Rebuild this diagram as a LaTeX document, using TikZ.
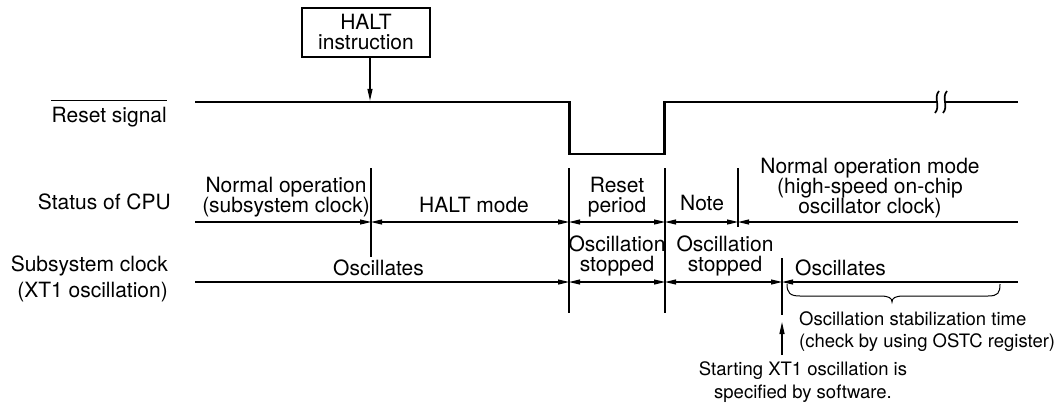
\documentclass[tikz,border=0pt]{standalone}
\usepackage{fontspec}
\setmainfont{TeX Gyre Heros}
\usetikzlibrary{arrows.meta}
\begin{document}
\begin{tikzpicture}[x=1pt,y=-1pt,
  lbl/.style={font=\fontsize{21}{20}\selectfont, inner sep=0pt, align=center},
  sml/.style={font=\fontsize{18.5}{22}\selectfont, inner sep=0pt},
  sig/.style={line width=2.3pt},
  thinline/.style={line width=1.2pt},
  tipa/.tip={Triangle[length=11pt,width=5pt]},
  tipb/.tip={Triangle[length=12pt,width=5pt]},
]
\useasboundingbox (0,0) rectangle (1056,409);

% ---- HALT instruction box
\node[draw, line width=1.1pt, minimum width=128pt, minimum height=49pt, lbl] (halt) at (366,32.5) {HALT\\instruction};
\coordinate (haltpt) at (370,100.8);
\draw[thinline, -{tipb}] (halt.south -| haltpt) -- (haltpt);

% ---- left labels
\node[lbl, anchor=base east] (rst) at (167,122) {Reset signal};
\draw[line width=1pt] (rst.west |- 0,100.7) -- (rst.east |- 0,100.7);
\node[lbl, anchor=base east] (cpu) at (171,209) {Status of CPU};
\node[font=\fontsize{21}{26}\selectfont, inner sep=0pt, align=right, anchor=base east] (clk) at (168,297) {Subsystem clock\\(XT1 oscillation)};

% ---- reset signal waveform
\coordinate (r0) at (195,102);
\coordinate (r1) at (569.5,102);
\coordinate (r2) at (569.5,154);
\coordinate (r3) at (664.5,154);
\coordinate (r4) at (664.5,102);
\coordinate (rb1) at (937,102);
\coordinate (rb2) at (945,102);
\coordinate (r5) at (1018,102);
\draw[sig] (r0) -- (r1) -- (r2) -- (r3) -- (r4) -- (rb1);
\draw[sig] (rb2) -- (r5);
\draw[line width=1.7pt] (939,91) .. controls (933,98) and (941,106) .. (935,113);
\draw[line width=1.7pt] (947,91) .. controls (941,98) and (949,106) .. (943,113);

% ---- dividers
\coordinate (d1t) at (371,168); \coordinate (d1b) at (371,257);
\coordinate (d2t) at (569,168); \coordinate (d2b) at (569,313);
\coordinate (d3t) at (665,168); \coordinate (d3b) at (665,313);
\coordinate (d4t) at (738,168); \coordinate (d4b) at (738,227);
\coordinate (d5t) at (782,258); \coordinate (d5b) at (782,315);
\foreach \d in {d1,d2,d3,d4,d5} \draw[thinline] (\d t) -- (\d b);

% ---- CPU status line
\coordinate (c0) at (195,222);
\coordinate (c5) at (1018,222);
\draw[thinline, -{tipa}] (c0) -- (d1t |- c0);
\draw[thinline, {tipa}-{tipa}] (d1t |- c0) -- (d2t |- c0);
\draw[thinline, {tipa}-{tipa}] (d2t |- c0) -- (d3t |- c0);
\draw[thinline, {tipa}-{tipa}] (d3t |- c0) -- (d4t |- c0);
\draw[thinline, {tipa}-] (d4t |- c0) -- (c5);

% ---- subsystem clock line
\coordinate (k0) at (195,282);
\coordinate (k5) at (1018,282);
\draw[thinline, -{tipa}] (k0) -- (d2t |- k0);
\draw[thinline, {tipa}-{tipa}] (d2t |- k0) -- (d3t |- k0);
\draw[thinline, {tipa}-{tipa}] (d3t |- k0) -- (d5t |- k0);
\draw[thinline, {tipa}-] (d5t |- k0) -- (k5);

% ---- status texts
\node[lbl, anchor=base] (norm) at (286,212) {Normal operation\\(subsystem clock)};
\node[lbl, anchor=base] (haltm) at (474,212) {HALT mode};
\node[lbl, anchor=base] (rp) at (617,212) {Reset\\period};
\node[lbl, anchor=base] (note) at (702,210) {Note};
\node[lbl, anchor=base] (nom) at (870,213) {Normal operation mode\\(high-speed on-chip\\oscillator clock)};

% ---- clock texts
\node[lbl, anchor=base west] (osc1) at (333,275) {Oscillates};
\node[lbl, anchor=base] (os1) at (617,271) {Oscillation\\stopped};
\node[lbl, anchor=base] (os2) at (725,271) {Oscillation\\stopped};
\node[lbl, anchor=base west] (osc2) at (795,275) {Oscillates};

% ---- brace
\draw[line width=1pt] (787,284) .. controls (787,293) and (790,296) .. (800,296) -- (880,296)
  .. controls (889,296) and (892,298) .. (892,302)
  .. controls (892,298) and (895,296) .. (904,296) -- (988,296)
  .. controls (998,296) and (1000,293) .. (1000,284);
\node[sml, anchor=base west, align=left] (stab) at (799,347) {Oscillation stabilization time\\(check by using OSTC register)};

% ---- software start arrow
\coordinate (swt) at (782,355);
\coordinate (swh) at (782,322);
\draw[thinline, -{tipb}] (swt) -- (swh);
\node[font=\fontsize{18.5}{23}\selectfont, inner sep=0pt, align=center, anchor=base] (start) at (803,398) {Starting XT1 oscillation is\\specified by software.};
\end{tikzpicture}
\end{document}
